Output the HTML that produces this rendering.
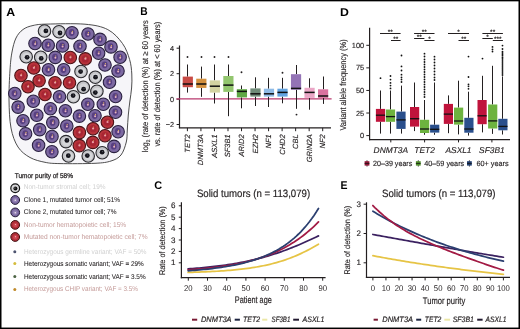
<!DOCTYPE html>
<html><head><meta charset="utf-8"><title>Figure</title>
<style>html,body{margin:0;padding:0;background:#fff;width:520px;height:329px;overflow:hidden}
svg text{font-family:"Liberation Sans", sans-serif;text-rendering:geometricPrecision}</style></head>
<body><svg width="520" height="329" viewBox="0 0 520 329" font-family='"Liberation Sans", sans-serif' style="display:block;will-change:transform"><text x="6.20" y="16.00" font-size="11.6" fill="#000" text-anchor="start" font-weight="bold" font-style="normal" textLength="8.90" lengthAdjust="spacingAndGlyphs">A</text>
<path d="M47.00,24.10 C55.67,23.88 74.87,23.28 85.00,24.20 C95.13,25.12 101.55,26.38 107.80,29.60 C114.05,32.82 118.87,38.52 122.50,43.50 C126.13,48.48 128.05,54.42 129.60,59.50 C131.15,64.58 131.47,69.25 131.80,74.00 C132.13,78.75 131.92,83.50 131.60,88.00 C131.28,92.50 130.45,96.50 129.90,101.00 C129.35,105.50 128.73,110.17 128.30,115.00 C127.87,119.83 127.63,125.50 127.30,130.00 C126.97,134.50 127.35,137.83 126.30,142.00 C125.25,146.17 123.55,151.83 121.00,155.00 C118.45,158.17 115.33,159.62 111.00,161.00 C106.67,162.38 103.50,162.87 95.00,163.30 C86.50,163.73 68.33,163.77 60.00,163.60 C51.67,163.43 50.00,163.32 45.00,162.30 C40.00,161.28 34.50,160.05 30.00,157.50 C25.50,154.95 21.17,151.92 18.00,147.00 C14.83,142.08 12.50,135.83 11.00,128.00 C9.50,120.17 9.17,109.67 9.00,100.00 C8.83,90.33 9.50,78.00 10.00,70.00 C10.50,62.00 11.00,57.33 12.00,52.00 C13.00,46.67 14.17,41.75 16.00,38.00 C17.83,34.25 20.17,31.58 23.00,29.50 C25.83,27.42 29.00,26.40 33.00,25.50 C37.00,24.60 38.33,24.32 47.00,24.10Z" fill="#f6f5f9" stroke="#3a3a3a" stroke-width="0.9"/>
<circle cx="44.50" cy="31.00" r="6.25" fill="#c4c4c8" stroke="#2a2a2e" stroke-width="1.1"/>
<circle cx="44.80" cy="31.30" r="4.05" fill="#d6d7da" stroke="none" stroke-width="0"/>
<circle cx="45.90" cy="30.90" r="2.40" fill="#16161d" stroke="none" stroke-width="0"/>
<circle cx="46.30" cy="30.30" r="0.60" fill="#5a5a64" stroke="none" stroke-width="0"/>
<circle cx="59.00" cy="31.70" r="6.25" fill="#c4c4c8" stroke="#2a2a2e" stroke-width="1.1"/>
<circle cx="59.30" cy="32.00" r="4.05" fill="#d6d7da" stroke="none" stroke-width="0"/>
<circle cx="60.00" cy="33.00" r="2.40" fill="#16161d" stroke="none" stroke-width="0"/>
<circle cx="60.40" cy="32.40" r="0.60" fill="#5a5a64" stroke="none" stroke-width="0"/>
<circle cx="72.00" cy="32.70" r="6.25" fill="#7d69a2" stroke="#2a2040" stroke-width="1.1"/>
<ellipse cx="71.70" cy="32.50" rx="2.9" ry="3.4" fill="#583f82"/>
<circle cx="72.10" cy="33.10" r="1.00" fill="#e8b2c2" stroke="none" stroke-width="0"/>
<circle cx="72.40" cy="31.30" r="0.60" fill="#e6c05a" stroke="none" stroke-width="0"/>
<circle cx="88.00" cy="34.00" r="6.25" fill="#7d69a2" stroke="#2a2040" stroke-width="1.1"/>
<ellipse cx="87.70" cy="33.80" rx="2.9" ry="3.4" fill="#583f82"/>
<circle cx="88.10" cy="34.40" r="1.00" fill="#e8b2c2" stroke="none" stroke-width="0"/>
<circle cx="88.40" cy="32.60" r="0.60" fill="#e6c05a" stroke="none" stroke-width="0"/>
<circle cx="100.00" cy="39.40" r="6.25" fill="#7d69a2" stroke="#2a2040" stroke-width="1.1"/>
<ellipse cx="99.70" cy="39.20" rx="2.9" ry="3.4" fill="#583f82"/>
<circle cx="100.10" cy="39.80" r="1.00" fill="#e8b2c2" stroke="none" stroke-width="0"/>
<circle cx="100.40" cy="38.00" r="0.60" fill="#e6c05a" stroke="none" stroke-width="0"/>
<circle cx="35.00" cy="43.50" r="6.25" fill="#7d69a2" stroke="#2a2040" stroke-width="1.1"/>
<ellipse cx="34.70" cy="43.30" rx="2.9" ry="3.4" fill="#583f82"/>
<circle cx="35.10" cy="43.90" r="1.00" fill="#e8b2c2" stroke="none" stroke-width="0"/>
<circle cx="35.40" cy="42.10" r="0.60" fill="#e6c05a" stroke="none" stroke-width="0"/>
<circle cx="48.20" cy="45.20" r="6.25" fill="#7d69a2" stroke="#2a2040" stroke-width="1.1"/>
<ellipse cx="47.90" cy="45.00" rx="2.9" ry="3.4" fill="#583f82"/>
<circle cx="48.30" cy="45.60" r="1.00" fill="#e8b2c2" stroke="none" stroke-width="0"/>
<circle cx="48.60" cy="43.80" r="0.60" fill="#e6c05a" stroke="none" stroke-width="0"/>
<circle cx="62.50" cy="46.00" r="6.25" fill="#7d69a2" stroke="#2a2040" stroke-width="1.1"/>
<ellipse cx="62.20" cy="45.80" rx="2.9" ry="3.4" fill="#583f82"/>
<circle cx="62.60" cy="46.40" r="1.00" fill="#e8b2c2" stroke="none" stroke-width="0"/>
<circle cx="62.90" cy="44.60" r="0.60" fill="#e6c05a" stroke="none" stroke-width="0"/>
<circle cx="80.00" cy="46.30" r="6.25" fill="#7d69a2" stroke="#2a2040" stroke-width="1.1"/>
<ellipse cx="79.70" cy="46.10" rx="2.9" ry="3.4" fill="#583f82"/>
<circle cx="80.10" cy="46.70" r="1.00" fill="#e8b2c2" stroke="none" stroke-width="0"/>
<circle cx="80.40" cy="44.90" r="0.60" fill="#e6c05a" stroke="none" stroke-width="0"/>
<circle cx="111.00" cy="46.90" r="6.25" fill="#7d69a2" stroke="#2a2040" stroke-width="1.1"/>
<ellipse cx="110.70" cy="46.70" rx="2.9" ry="3.4" fill="#583f82"/>
<circle cx="111.10" cy="47.30" r="1.00" fill="#e8b2c2" stroke="none" stroke-width="0"/>
<circle cx="111.40" cy="45.50" r="0.60" fill="#e6c05a" stroke="none" stroke-width="0"/>
<circle cx="26.20" cy="56.70" r="6.25" fill="#c4c4c8" stroke="#2a2a2e" stroke-width="1.1"/>
<circle cx="26.50" cy="57.00" r="4.05" fill="#d6d7da" stroke="none" stroke-width="0"/>
<circle cx="27.10" cy="57.30" r="2.40" fill="#16161d" stroke="none" stroke-width="0"/>
<circle cx="27.50" cy="56.70" r="0.60" fill="#5a5a64" stroke="none" stroke-width="0"/>
<circle cx="40.70" cy="57.20" r="6.25" fill="#c4c4c8" stroke="#2a2a2e" stroke-width="1.1"/>
<circle cx="41.00" cy="57.50" r="4.05" fill="#d6d7da" stroke="none" stroke-width="0"/>
<circle cx="41.20" cy="58.40" r="2.40" fill="#16161d" stroke="none" stroke-width="0"/>
<circle cx="41.60" cy="57.80" r="0.60" fill="#5a5a64" stroke="none" stroke-width="0"/>
<circle cx="55.30" cy="57.40" r="6.25" fill="#7d69a2" stroke="#2a2040" stroke-width="1.1"/>
<ellipse cx="55.00" cy="57.20" rx="2.9" ry="3.4" fill="#583f82"/>
<circle cx="55.40" cy="57.80" r="1.00" fill="#e8b2c2" stroke="none" stroke-width="0"/>
<circle cx="55.70" cy="56.00" r="0.60" fill="#e6c05a" stroke="none" stroke-width="0"/>
<circle cx="70.30" cy="57.50" r="6.25" fill="#b8333b" stroke="#4a1216" stroke-width="1.1"/>
<circle cx="70.30" cy="57.50" r="3.60" fill="#a82634" stroke="none" stroke-width="0"/>
<circle cx="70.40" cy="57.30" r="1.10" fill="#ec9aa6" stroke="none" stroke-width="0"/>
<circle cx="70.90" cy="55.90" r="0.50" fill="#e6c05a" stroke="none" stroke-width="0"/>
<circle cx="85.30" cy="58.90" r="6.25" fill="#b8333b" stroke="#4a1216" stroke-width="1.1"/>
<circle cx="85.30" cy="58.90" r="3.60" fill="#a82634" stroke="none" stroke-width="0"/>
<circle cx="85.40" cy="58.70" r="1.10" fill="#ec9aa6" stroke="none" stroke-width="0"/>
<circle cx="85.90" cy="57.30" r="0.50" fill="#e6c05a" stroke="none" stroke-width="0"/>
<circle cx="98.60" cy="53.20" r="6.25" fill="#7d69a2" stroke="#2a2040" stroke-width="1.1"/>
<ellipse cx="98.30" cy="53.00" rx="2.9" ry="3.4" fill="#583f82"/>
<circle cx="98.70" cy="53.60" r="1.00" fill="#e8b2c2" stroke="none" stroke-width="0"/>
<circle cx="99.00" cy="51.80" r="0.60" fill="#e6c05a" stroke="none" stroke-width="0"/>
<circle cx="120.10" cy="57.30" r="6.25" fill="#7d69a2" stroke="#2a2040" stroke-width="1.1"/>
<ellipse cx="119.80" cy="57.10" rx="2.9" ry="3.4" fill="#583f82"/>
<circle cx="120.20" cy="57.70" r="1.00" fill="#e8b2c2" stroke="none" stroke-width="0"/>
<circle cx="120.50" cy="55.90" r="0.60" fill="#e6c05a" stroke="none" stroke-width="0"/>
<circle cx="33.80" cy="68.00" r="6.25" fill="#b8333b" stroke="#4a1216" stroke-width="1.1"/>
<circle cx="33.80" cy="68.00" r="3.60" fill="#a82634" stroke="none" stroke-width="0"/>
<circle cx="33.90" cy="67.80" r="1.10" fill="#ec9aa6" stroke="none" stroke-width="0"/>
<circle cx="34.40" cy="66.40" r="0.50" fill="#e6c05a" stroke="none" stroke-width="0"/>
<circle cx="48.50" cy="69.70" r="6.25" fill="#7d69a2" stroke="#2a2040" stroke-width="1.1"/>
<ellipse cx="48.20" cy="69.50" rx="2.9" ry="3.4" fill="#583f82"/>
<circle cx="48.60" cy="70.10" r="1.00" fill="#e8b2c2" stroke="none" stroke-width="0"/>
<circle cx="48.90" cy="68.30" r="0.60" fill="#e6c05a" stroke="none" stroke-width="0"/>
<circle cx="63.70" cy="69.70" r="6.25" fill="#7d69a2" stroke="#2a2040" stroke-width="1.1"/>
<ellipse cx="63.40" cy="69.50" rx="2.9" ry="3.4" fill="#583f82"/>
<circle cx="63.80" cy="70.10" r="1.00" fill="#e8b2c2" stroke="none" stroke-width="0"/>
<circle cx="64.10" cy="68.30" r="0.60" fill="#e6c05a" stroke="none" stroke-width="0"/>
<circle cx="81.00" cy="71.50" r="6.25" fill="#c4c4c8" stroke="#2a2a2e" stroke-width="1.1"/>
<circle cx="81.30" cy="71.80" r="4.05" fill="#d6d7da" stroke="none" stroke-width="0"/>
<circle cx="80.60" cy="71.60" r="2.40" fill="#16161d" stroke="none" stroke-width="0"/>
<circle cx="81.00" cy="71.00" r="0.60" fill="#5a5a64" stroke="none" stroke-width="0"/>
<circle cx="105.00" cy="65.00" r="6.25" fill="#7d69a2" stroke="#2a2040" stroke-width="1.1"/>
<ellipse cx="104.70" cy="64.80" rx="2.9" ry="3.4" fill="#583f82"/>
<circle cx="105.10" cy="65.40" r="1.00" fill="#e8b2c2" stroke="none" stroke-width="0"/>
<circle cx="105.40" cy="63.60" r="0.60" fill="#e6c05a" stroke="none" stroke-width="0"/>
<circle cx="118.00" cy="71.00" r="6.25" fill="#7d69a2" stroke="#2a2040" stroke-width="1.1"/>
<ellipse cx="117.70" cy="70.80" rx="2.9" ry="3.4" fill="#583f82"/>
<circle cx="118.10" cy="71.40" r="1.00" fill="#e8b2c2" stroke="none" stroke-width="0"/>
<circle cx="118.40" cy="69.60" r="0.60" fill="#e6c05a" stroke="none" stroke-width="0"/>
<circle cx="21.00" cy="75.50" r="6.25" fill="#b8333b" stroke="#4a1216" stroke-width="1.1"/>
<circle cx="21.00" cy="75.50" r="3.60" fill="#a82634" stroke="none" stroke-width="0"/>
<circle cx="21.10" cy="75.30" r="1.10" fill="#ec9aa6" stroke="none" stroke-width="0"/>
<circle cx="21.60" cy="73.90" r="0.50" fill="#e6c05a" stroke="none" stroke-width="0"/>
<circle cx="39.10" cy="80.70" r="6.25" fill="#b8333b" stroke="#4a1216" stroke-width="1.1"/>
<circle cx="39.10" cy="80.70" r="3.60" fill="#a82634" stroke="none" stroke-width="0"/>
<circle cx="39.20" cy="80.50" r="1.10" fill="#ec9aa6" stroke="none" stroke-width="0"/>
<circle cx="39.70" cy="79.10" r="0.50" fill="#e6c05a" stroke="none" stroke-width="0"/>
<circle cx="55.00" cy="82.80" r="6.25" fill="#b8333b" stroke="#4a1216" stroke-width="1.1"/>
<circle cx="55.00" cy="82.80" r="3.60" fill="#a82634" stroke="none" stroke-width="0"/>
<circle cx="55.10" cy="82.60" r="1.10" fill="#ec9aa6" stroke="none" stroke-width="0"/>
<circle cx="55.60" cy="81.20" r="0.50" fill="#e6c05a" stroke="none" stroke-width="0"/>
<circle cx="69.50" cy="82.70" r="6.25" fill="#b8333b" stroke="#4a1216" stroke-width="1.1"/>
<circle cx="69.50" cy="82.70" r="3.60" fill="#a82634" stroke="none" stroke-width="0"/>
<circle cx="69.60" cy="82.50" r="1.10" fill="#ec9aa6" stroke="none" stroke-width="0"/>
<circle cx="70.10" cy="81.10" r="0.50" fill="#e6c05a" stroke="none" stroke-width="0"/>
<circle cx="95.30" cy="77.20" r="6.25" fill="#c4c4c8" stroke="#2a2a2e" stroke-width="1.1"/>
<circle cx="95.60" cy="77.50" r="4.05" fill="#d6d7da" stroke="none" stroke-width="0"/>
<circle cx="95.50" cy="77.20" r="2.40" fill="#16161d" stroke="none" stroke-width="0"/>
<circle cx="95.90" cy="76.60" r="0.60" fill="#5a5a64" stroke="none" stroke-width="0"/>
<circle cx="109.50" cy="82.20" r="6.25" fill="#7d69a2" stroke="#2a2040" stroke-width="1.1"/>
<ellipse cx="109.20" cy="82.00" rx="2.9" ry="3.4" fill="#583f82"/>
<circle cx="109.60" cy="82.60" r="1.00" fill="#e8b2c2" stroke="none" stroke-width="0"/>
<circle cx="109.90" cy="80.80" r="0.60" fill="#e6c05a" stroke="none" stroke-width="0"/>
<circle cx="28.00" cy="86.80" r="6.25" fill="#b8333b" stroke="#4a1216" stroke-width="1.1"/>
<circle cx="28.00" cy="86.80" r="3.60" fill="#a82634" stroke="none" stroke-width="0"/>
<circle cx="28.10" cy="86.60" r="1.10" fill="#ec9aa6" stroke="none" stroke-width="0"/>
<circle cx="28.60" cy="85.20" r="0.50" fill="#e6c05a" stroke="none" stroke-width="0"/>
<circle cx="83.30" cy="87.30" r="6.25" fill="#c4c4c8" stroke="#2a2a2e" stroke-width="1.1"/>
<circle cx="83.60" cy="87.60" r="4.05" fill="#d6d7da" stroke="none" stroke-width="0"/>
<circle cx="83.60" cy="89.20" r="2.40" fill="#16161d" stroke="none" stroke-width="0"/>
<circle cx="84.00" cy="88.60" r="0.60" fill="#5a5a64" stroke="none" stroke-width="0"/>
<circle cx="14.80" cy="93.50" r="6.25" fill="#7d69a2" stroke="#2a2040" stroke-width="1.1"/>
<ellipse cx="14.50" cy="93.30" rx="2.9" ry="3.4" fill="#583f82"/>
<circle cx="14.90" cy="93.90" r="1.00" fill="#e8b2c2" stroke="none" stroke-width="0"/>
<circle cx="15.20" cy="92.10" r="0.60" fill="#e6c05a" stroke="none" stroke-width="0"/>
<circle cx="45.00" cy="94.50" r="6.25" fill="#b8333b" stroke="#4a1216" stroke-width="1.1"/>
<circle cx="45.00" cy="94.50" r="3.60" fill="#a82634" stroke="none" stroke-width="0"/>
<circle cx="45.10" cy="94.30" r="1.10" fill="#ec9aa6" stroke="none" stroke-width="0"/>
<circle cx="45.60" cy="92.90" r="0.50" fill="#e6c05a" stroke="none" stroke-width="0"/>
<circle cx="59.50" cy="96.70" r="6.25" fill="#7d69a2" stroke="#2a2040" stroke-width="1.1"/>
<ellipse cx="59.20" cy="96.50" rx="2.9" ry="3.4" fill="#583f82"/>
<circle cx="59.60" cy="97.10" r="1.00" fill="#e8b2c2" stroke="none" stroke-width="0"/>
<circle cx="59.90" cy="95.30" r="0.60" fill="#e6c05a" stroke="none" stroke-width="0"/>
<circle cx="73.40" cy="96.80" r="6.25" fill="#c4c4c8" stroke="#2a2a2e" stroke-width="1.1"/>
<circle cx="73.70" cy="97.10" r="4.05" fill="#d6d7da" stroke="none" stroke-width="0"/>
<circle cx="73.10" cy="95.60" r="2.40" fill="#16161d" stroke="none" stroke-width="0"/>
<circle cx="73.50" cy="95.00" r="0.60" fill="#5a5a64" stroke="none" stroke-width="0"/>
<circle cx="96.90" cy="91.20" r="6.25" fill="#c4c4c8" stroke="#2a2a2e" stroke-width="1.1"/>
<circle cx="97.20" cy="91.50" r="4.05" fill="#d6d7da" stroke="none" stroke-width="0"/>
<circle cx="95.30" cy="92.60" r="2.40" fill="#16161d" stroke="none" stroke-width="0"/>
<circle cx="95.70" cy="92.00" r="0.60" fill="#5a5a64" stroke="none" stroke-width="0"/>
<circle cx="115.60" cy="96.50" r="6.25" fill="#7d69a2" stroke="#2a2040" stroke-width="1.1"/>
<ellipse cx="115.30" cy="96.30" rx="2.9" ry="3.4" fill="#583f82"/>
<circle cx="115.70" cy="96.90" r="1.00" fill="#e8b2c2" stroke="none" stroke-width="0"/>
<circle cx="116.00" cy="95.10" r="0.60" fill="#e6c05a" stroke="none" stroke-width="0"/>
<circle cx="33.30" cy="101.30" r="6.25" fill="#7d69a2" stroke="#2a2040" stroke-width="1.1"/>
<ellipse cx="33.00" cy="101.10" rx="2.9" ry="3.4" fill="#583f82"/>
<circle cx="33.40" cy="101.70" r="1.00" fill="#e8b2c2" stroke="none" stroke-width="0"/>
<circle cx="33.70" cy="99.90" r="0.60" fill="#e6c05a" stroke="none" stroke-width="0"/>
<circle cx="87.80" cy="104.30" r="6.25" fill="#7d69a2" stroke="#2a2040" stroke-width="1.1"/>
<ellipse cx="87.50" cy="104.10" rx="2.9" ry="3.4" fill="#583f82"/>
<circle cx="87.90" cy="104.70" r="1.00" fill="#e8b2c2" stroke="none" stroke-width="0"/>
<circle cx="88.20" cy="102.90" r="0.60" fill="#e6c05a" stroke="none" stroke-width="0"/>
<circle cx="103.30" cy="104.30" r="6.25" fill="#7d69a2" stroke="#2a2040" stroke-width="1.1"/>
<ellipse cx="103.00" cy="104.10" rx="2.9" ry="3.4" fill="#583f82"/>
<circle cx="103.40" cy="104.70" r="1.00" fill="#e8b2c2" stroke="none" stroke-width="0"/>
<circle cx="103.70" cy="102.90" r="0.60" fill="#e6c05a" stroke="none" stroke-width="0"/>
<circle cx="18.10" cy="107.10" r="6.25" fill="#7d69a2" stroke="#2a2040" stroke-width="1.1"/>
<ellipse cx="17.80" cy="106.90" rx="2.9" ry="3.4" fill="#583f82"/>
<circle cx="18.20" cy="107.50" r="1.00" fill="#e8b2c2" stroke="none" stroke-width="0"/>
<circle cx="18.50" cy="105.70" r="0.60" fill="#e6c05a" stroke="none" stroke-width="0"/>
<circle cx="50.40" cy="108.80" r="6.25" fill="#7d69a2" stroke="#2a2040" stroke-width="1.1"/>
<ellipse cx="50.10" cy="108.60" rx="2.9" ry="3.4" fill="#583f82"/>
<circle cx="50.50" cy="109.20" r="1.00" fill="#e8b2c2" stroke="none" stroke-width="0"/>
<circle cx="50.80" cy="107.40" r="0.60" fill="#e6c05a" stroke="none" stroke-width="0"/>
<circle cx="65.40" cy="110.80" r="6.25" fill="#7d69a2" stroke="#2a2040" stroke-width="1.1"/>
<ellipse cx="65.10" cy="110.60" rx="2.9" ry="3.4" fill="#583f82"/>
<circle cx="65.50" cy="111.20" r="1.00" fill="#e8b2c2" stroke="none" stroke-width="0"/>
<circle cx="65.80" cy="109.40" r="0.60" fill="#e6c05a" stroke="none" stroke-width="0"/>
<circle cx="115.50" cy="112.20" r="6.25" fill="#7d69a2" stroke="#2a2040" stroke-width="1.1"/>
<ellipse cx="115.20" cy="112.00" rx="2.9" ry="3.4" fill="#583f82"/>
<circle cx="115.60" cy="112.60" r="1.00" fill="#e8b2c2" stroke="none" stroke-width="0"/>
<circle cx="115.90" cy="110.80" r="0.60" fill="#e6c05a" stroke="none" stroke-width="0"/>
<circle cx="36.80" cy="115.20" r="6.25" fill="#7d69a2" stroke="#2a2040" stroke-width="1.1"/>
<ellipse cx="36.50" cy="115.00" rx="2.9" ry="3.4" fill="#583f82"/>
<circle cx="36.90" cy="115.60" r="1.00" fill="#e8b2c2" stroke="none" stroke-width="0"/>
<circle cx="37.20" cy="113.80" r="0.60" fill="#e6c05a" stroke="none" stroke-width="0"/>
<circle cx="79.40" cy="116.10" r="6.25" fill="#7d69a2" stroke="#2a2040" stroke-width="1.1"/>
<ellipse cx="79.10" cy="115.90" rx="2.9" ry="3.4" fill="#583f82"/>
<circle cx="79.50" cy="116.50" r="1.00" fill="#e8b2c2" stroke="none" stroke-width="0"/>
<circle cx="79.80" cy="114.70" r="0.60" fill="#e6c05a" stroke="none" stroke-width="0"/>
<circle cx="95.00" cy="115.80" r="6.25" fill="#7d69a2" stroke="#2a2040" stroke-width="1.1"/>
<ellipse cx="94.70" cy="115.60" rx="2.9" ry="3.4" fill="#583f82"/>
<circle cx="95.10" cy="116.20" r="1.00" fill="#e8b2c2" stroke="none" stroke-width="0"/>
<circle cx="95.40" cy="114.40" r="0.60" fill="#e6c05a" stroke="none" stroke-width="0"/>
<circle cx="23.00" cy="120.80" r="6.25" fill="#7d69a2" stroke="#2a2040" stroke-width="1.1"/>
<ellipse cx="22.70" cy="120.60" rx="2.9" ry="3.4" fill="#583f82"/>
<circle cx="23.10" cy="121.20" r="1.00" fill="#e8b2c2" stroke="none" stroke-width="0"/>
<circle cx="23.40" cy="119.40" r="0.60" fill="#e6c05a" stroke="none" stroke-width="0"/>
<circle cx="52.80" cy="122.60" r="6.25" fill="#7d69a2" stroke="#2a2040" stroke-width="1.1"/>
<ellipse cx="52.50" cy="122.40" rx="2.9" ry="3.4" fill="#583f82"/>
<circle cx="52.90" cy="123.00" r="1.00" fill="#e8b2c2" stroke="none" stroke-width="0"/>
<circle cx="53.20" cy="121.20" r="0.60" fill="#e6c05a" stroke="none" stroke-width="0"/>
<circle cx="107.40" cy="122.20" r="6.25" fill="#b8333b" stroke="#4a1216" stroke-width="1.1"/>
<circle cx="107.40" cy="122.20" r="3.60" fill="#a82634" stroke="none" stroke-width="0"/>
<circle cx="107.50" cy="122.00" r="1.10" fill="#ec9aa6" stroke="none" stroke-width="0"/>
<circle cx="108.00" cy="120.60" r="0.50" fill="#e6c05a" stroke="none" stroke-width="0"/>
<circle cx="66.80" cy="126.00" r="6.25" fill="#7d69a2" stroke="#2a2040" stroke-width="1.1"/>
<ellipse cx="66.50" cy="125.80" rx="2.9" ry="3.4" fill="#583f82"/>
<circle cx="66.90" cy="126.40" r="1.00" fill="#e8b2c2" stroke="none" stroke-width="0"/>
<circle cx="67.20" cy="124.60" r="0.60" fill="#e6c05a" stroke="none" stroke-width="0"/>
<circle cx="39.70" cy="129.60" r="6.25" fill="#7d69a2" stroke="#2a2040" stroke-width="1.1"/>
<ellipse cx="39.40" cy="129.40" rx="2.9" ry="3.4" fill="#583f82"/>
<circle cx="39.80" cy="130.00" r="1.00" fill="#e8b2c2" stroke="none" stroke-width="0"/>
<circle cx="40.10" cy="128.20" r="0.60" fill="#e6c05a" stroke="none" stroke-width="0"/>
<circle cx="93.00" cy="128.70" r="6.25" fill="#b8333b" stroke="#4a1216" stroke-width="1.1"/>
<circle cx="93.00" cy="128.70" r="3.60" fill="#a82634" stroke="none" stroke-width="0"/>
<circle cx="93.10" cy="128.50" r="1.10" fill="#ec9aa6" stroke="none" stroke-width="0"/>
<circle cx="93.60" cy="127.10" r="0.50" fill="#e6c05a" stroke="none" stroke-width="0"/>
<circle cx="25.60" cy="133.80" r="6.25" fill="#7d69a2" stroke="#2a2040" stroke-width="1.1"/>
<ellipse cx="25.30" cy="133.60" rx="2.9" ry="3.4" fill="#583f82"/>
<circle cx="25.70" cy="134.20" r="1.00" fill="#e8b2c2" stroke="none" stroke-width="0"/>
<circle cx="26.00" cy="132.40" r="0.60" fill="#e6c05a" stroke="none" stroke-width="0"/>
<circle cx="52.00" cy="136.50" r="6.25" fill="#7d69a2" stroke="#2a2040" stroke-width="1.1"/>
<ellipse cx="51.70" cy="136.30" rx="2.9" ry="3.4" fill="#583f82"/>
<circle cx="52.10" cy="136.90" r="1.00" fill="#e8b2c2" stroke="none" stroke-width="0"/>
<circle cx="52.40" cy="135.10" r="0.60" fill="#e6c05a" stroke="none" stroke-width="0"/>
<circle cx="79.40" cy="132.60" r="6.25" fill="#b8333b" stroke="#4a1216" stroke-width="1.1"/>
<circle cx="79.40" cy="132.60" r="3.60" fill="#a82634" stroke="none" stroke-width="0"/>
<circle cx="79.50" cy="132.40" r="1.10" fill="#ec9aa6" stroke="none" stroke-width="0"/>
<circle cx="80.00" cy="131.00" r="0.50" fill="#e6c05a" stroke="none" stroke-width="0"/>
<circle cx="105.00" cy="135.70" r="6.25" fill="#b8333b" stroke="#4a1216" stroke-width="1.1"/>
<circle cx="105.00" cy="135.70" r="3.60" fill="#a82634" stroke="none" stroke-width="0"/>
<circle cx="105.10" cy="135.50" r="1.10" fill="#ec9aa6" stroke="none" stroke-width="0"/>
<circle cx="105.60" cy="134.10" r="0.50" fill="#e6c05a" stroke="none" stroke-width="0"/>
<circle cx="118.10" cy="131.70" r="6.25" fill="#7d69a2" stroke="#2a2040" stroke-width="1.1"/>
<ellipse cx="117.80" cy="131.50" rx="2.9" ry="3.4" fill="#583f82"/>
<circle cx="118.20" cy="132.10" r="1.00" fill="#e8b2c2" stroke="none" stroke-width="0"/>
<circle cx="118.50" cy="130.30" r="0.60" fill="#e6c05a" stroke="none" stroke-width="0"/>
<circle cx="66.00" cy="141.60" r="6.25" fill="#c4c4c8" stroke="#2a2a2e" stroke-width="1.1"/>
<circle cx="66.30" cy="141.90" r="4.05" fill="#d6d7da" stroke="none" stroke-width="0"/>
<circle cx="66.90" cy="140.40" r="2.40" fill="#16161d" stroke="none" stroke-width="0"/>
<circle cx="67.30" cy="139.80" r="0.60" fill="#5a5a64" stroke="none" stroke-width="0"/>
<circle cx="79.30" cy="145.60" r="6.25" fill="#b8333b" stroke="#4a1216" stroke-width="1.1"/>
<circle cx="79.30" cy="145.60" r="3.60" fill="#a82634" stroke="none" stroke-width="0"/>
<circle cx="79.40" cy="145.40" r="1.10" fill="#ec9aa6" stroke="none" stroke-width="0"/>
<circle cx="79.90" cy="144.00" r="0.50" fill="#e6c05a" stroke="none" stroke-width="0"/>
<circle cx="92.80" cy="142.40" r="6.25" fill="#b8333b" stroke="#4a1216" stroke-width="1.1"/>
<circle cx="92.80" cy="142.40" r="3.60" fill="#a82634" stroke="none" stroke-width="0"/>
<circle cx="92.90" cy="142.20" r="1.10" fill="#ec9aa6" stroke="none" stroke-width="0"/>
<circle cx="93.40" cy="140.80" r="0.50" fill="#e6c05a" stroke="none" stroke-width="0"/>
<circle cx="38.60" cy="145.30" r="6.25" fill="#7d69a2" stroke="#2a2040" stroke-width="1.1"/>
<ellipse cx="38.30" cy="145.10" rx="2.9" ry="3.4" fill="#583f82"/>
<circle cx="38.70" cy="145.70" r="1.00" fill="#e8b2c2" stroke="none" stroke-width="0"/>
<circle cx="39.00" cy="143.90" r="0.60" fill="#e6c05a" stroke="none" stroke-width="0"/>
<circle cx="114.00" cy="146.40" r="6.25" fill="#7d69a2" stroke="#2a2040" stroke-width="1.1"/>
<ellipse cx="113.70" cy="146.20" rx="2.9" ry="3.4" fill="#583f82"/>
<circle cx="114.10" cy="146.80" r="1.00" fill="#e8b2c2" stroke="none" stroke-width="0"/>
<circle cx="114.40" cy="145.00" r="0.60" fill="#e6c05a" stroke="none" stroke-width="0"/>
<circle cx="51.90" cy="151.80" r="6.25" fill="#7d69a2" stroke="#2a2040" stroke-width="1.1"/>
<ellipse cx="51.60" cy="151.60" rx="2.9" ry="3.4" fill="#583f82"/>
<circle cx="52.00" cy="152.20" r="1.00" fill="#e8b2c2" stroke="none" stroke-width="0"/>
<circle cx="52.30" cy="150.40" r="0.60" fill="#e6c05a" stroke="none" stroke-width="0"/>
<circle cx="68.50" cy="156.00" r="6.25" fill="#c4c4c8" stroke="#2a2a2e" stroke-width="1.1"/>
<circle cx="68.80" cy="156.30" r="4.05" fill="#d6d7da" stroke="none" stroke-width="0"/>
<circle cx="68.30" cy="155.70" r="2.40" fill="#16161d" stroke="none" stroke-width="0"/>
<circle cx="68.70" cy="155.10" r="0.60" fill="#5a5a64" stroke="none" stroke-width="0"/>
<circle cx="88.20" cy="156.00" r="6.25" fill="#c4c4c8" stroke="#2a2a2e" stroke-width="1.1"/>
<circle cx="88.50" cy="156.30" r="4.05" fill="#d6d7da" stroke="none" stroke-width="0"/>
<circle cx="87.30" cy="155.60" r="2.40" fill="#16161d" stroke="none" stroke-width="0"/>
<circle cx="87.70" cy="155.00" r="0.60" fill="#5a5a64" stroke="none" stroke-width="0"/>
<circle cx="102.20" cy="152.80" r="6.25" fill="#c4c4c8" stroke="#2a2a2e" stroke-width="1.1"/>
<circle cx="102.50" cy="153.10" r="4.05" fill="#d6d7da" stroke="none" stroke-width="0"/>
<circle cx="102.10" cy="152.20" r="2.40" fill="#16161d" stroke="none" stroke-width="0"/>
<circle cx="102.50" cy="151.60" r="0.60" fill="#5a5a64" stroke="none" stroke-width="0"/>
<text x="14.70" y="177.70" font-size="7.0" fill="#231f20" text-anchor="start" font-weight="normal" font-style="normal" textLength="58.30" lengthAdjust="spacingAndGlyphs" stroke="#231f20" stroke-width="0.25">Tumor purity of 58%</text>
<circle cx="15.20" cy="188.20" r="4.40" fill="#d6d6d8" stroke="#151515" stroke-width="1.2"/>
<circle cx="15.40" cy="188.40" r="2.00" fill="#111" stroke="none" stroke-width="0"/>
<circle cx="14.90" cy="188.00" r="0.60" fill="#bbbbbb" stroke="none" stroke-width="0"/>
<text x="23.80" y="189.10" font-size="6.9" fill="#d0d0d0" text-anchor="start" font-weight="normal" font-style="normal" textLength="81.70" lengthAdjust="spacingAndGlyphs" >Non-tumor stromal cell; 19%</text>
<circle cx="15.20" cy="200.00" r="4.40" fill="#7a67a0" stroke="#221a36" stroke-width="1.0"/>
<circle cx="15.20" cy="200.20" r="2.40" fill="#9483b4" stroke="none" stroke-width="0"/>
<circle cx="15.30" cy="200.30" r="0.80" fill="#ece0ec" stroke="none" stroke-width="0"/>
<text x="23.80" y="201.60" font-size="6.9" fill="#231f20" text-anchor="start" font-weight="normal" font-style="normal" textLength="96.30" lengthAdjust="spacingAndGlyphs" stroke="#231f20" stroke-width="0.06">Clone 1, mutated tumor cell; 51%</text>
<circle cx="15.20" cy="212.40" r="4.40" fill="#7a67a0" stroke="#221a36" stroke-width="1.0"/>
<circle cx="15.20" cy="212.60" r="2.40" fill="#9483b4" stroke="none" stroke-width="0"/>
<circle cx="15.30" cy="212.70" r="0.80" fill="#ece0ec" stroke="none" stroke-width="0"/>
<text x="23.80" y="213.70" font-size="6.9" fill="#231f20" text-anchor="start" font-weight="normal" font-style="normal" textLength="92.70" lengthAdjust="spacingAndGlyphs" stroke="#231f20" stroke-width="0.06">Clone 2, mutated tumor cell; 7%</text>
<circle cx="15.20" cy="224.90" r="4.40" fill="#b02e38" stroke="#401012" stroke-width="1.0"/>
<circle cx="15.40" cy="225.10" r="2.20" fill="#cc4652" stroke="none" stroke-width="0"/>
<circle cx="15.50" cy="224.60" r="0.60" fill="#f0b0b0" stroke="none" stroke-width="0"/>
<text x="23.80" y="226.50" font-size="6.9" fill="#c49a98" text-anchor="start" font-weight="normal" font-style="normal" textLength="102.40" lengthAdjust="spacingAndGlyphs" >Non-tumor hematopoietic cell; 15%</text>
<circle cx="15.20" cy="237.00" r="4.40" fill="#b02e38" stroke="#401012" stroke-width="1.0"/>
<circle cx="15.40" cy="237.20" r="2.20" fill="#cc4652" stroke="none" stroke-width="0"/>
<circle cx="15.50" cy="236.70" r="0.60" fill="#f0b0b0" stroke="none" stroke-width="0"/>
<text x="23.80" y="238.60" font-size="6.9" fill="#c49a98" text-anchor="start" font-weight="normal" font-style="normal" textLength="123.80" lengthAdjust="spacingAndGlyphs" >Mutated non-tumor hematopoietic cell; 7%</text>
<circle cx="14.80" cy="251.70" r="1.50" fill="#4d5470" stroke="none" stroke-width="0"/>
<text x="24.00" y="253.70" font-size="6.9" fill="#d0d0d0" text-anchor="start" font-weight="normal" font-style="normal" textLength="122.50" lengthAdjust="spacingAndGlyphs" >Heterozygous germline variant; VAF = 50%</text>
<circle cx="14.80" cy="263.50" r="1.50" fill="#d4bc3c" stroke="none" stroke-width="0"/>
<text x="24.00" y="265.90" font-size="6.9" fill="#231f20" text-anchor="start" font-weight="normal" font-style="normal" textLength="119.80" lengthAdjust="spacingAndGlyphs" stroke="#231f20" stroke-width="0.08">Heterozygous somatic variant; VAF = 29%</text>
<circle cx="14.80" cy="276.60" r="1.50" fill="#4d6445" stroke="none" stroke-width="0"/>
<text x="24.00" y="278.50" font-size="6.9" fill="#231f20" text-anchor="start" font-weight="normal" font-style="normal" textLength="121.60" lengthAdjust="spacingAndGlyphs" stroke="#231f20" stroke-width="0.08">Heterozygous somatic variant; VAF = 3.5%</text>
<circle cx="14.80" cy="289.60" r="1.50" fill="#c08a2a" stroke="none" stroke-width="0"/>
<text x="24.00" y="291.20" font-size="6.9" fill="#c49a98" text-anchor="start" font-weight="normal" font-style="normal" textLength="114.00" lengthAdjust="spacingAndGlyphs" >Heterozygous CHIP variant; VAF = 3.5%</text>
<text x="140.20" y="14.90" font-size="11.2" fill="#000" text-anchor="start" font-weight="bold" font-style="normal" textLength="7.40" lengthAdjust="spacingAndGlyphs">B</text>
<text transform="translate(148.3,152.3) rotate(-90)" font-size="8.4" fill="#231f20" stroke="#231f20" stroke-width="0.14" textLength="132" lengthAdjust="spacingAndGlyphs">log<tspan font-size="5.2" dy="1.5">2</tspan><tspan dy="-1.5"> (rate of detection (%) at ≥ 60 years</tspan></text>
<text transform="translate(159.6,146.6) rotate(-90)" font-size="8.4" fill="#231f20" stroke="#231f20" stroke-width="0.14" textLength="124.7" lengthAdjust="spacingAndGlyphs">vs. rate of detection (%) at &lt; 60 years)</text>
<line x1="179.50" y1="45.50" x2="179.50" y2="128.20" stroke="#231f20" stroke-width="1.2"/>
<line x1="178.90" y1="127.90" x2="331.00" y2="127.90" stroke="#231f20" stroke-width="1.2"/>
<line x1="176.60" y1="48.20" x2="179.50" y2="48.20" stroke="#231f20" stroke-width="1.0"/>
<text x="174.00" y="50.80" font-size="7.3" fill="#231f20" text-anchor="end" font-weight="normal" font-style="normal" stroke="#231f20" stroke-width="0.14">4</text>
<line x1="176.60" y1="73.70" x2="179.50" y2="73.70" stroke="#231f20" stroke-width="1.0"/>
<text x="174.00" y="76.30" font-size="7.3" fill="#231f20" text-anchor="end" font-weight="normal" font-style="normal" stroke="#231f20" stroke-width="0.14">2</text>
<line x1="176.60" y1="99.20" x2="179.50" y2="99.20" stroke="#231f20" stroke-width="1.0"/>
<text x="174.00" y="101.80" font-size="7.3" fill="#231f20" text-anchor="end" font-weight="normal" font-style="normal" stroke="#231f20" stroke-width="0.14">0</text>
<line x1="176.60" y1="124.50" x2="179.50" y2="124.50" stroke="#231f20" stroke-width="1.0"/>
<text x="174.00" y="127.10" font-size="7.3" fill="#231f20" text-anchor="end" font-weight="normal" font-style="normal" stroke="#231f20" stroke-width="0.14">−2</text>
<line x1="176.40" y1="98.90" x2="331.60" y2="98.90" stroke="#b8386e" stroke-width="1.3"/>
<line x1="187.50" y1="64.50" x2="187.50" y2="76.60" stroke="#231f20" stroke-width="1.0"/>
<line x1="187.50" y1="87.20" x2="187.50" y2="92.60" stroke="#231f20" stroke-width="1.0"/>
<rect x="182.70" y="76.60" width="10.20" height="10.60" fill="#c94c46" stroke="none" stroke-width="0"/>
<line x1="182.70" y1="84.00" x2="192.90" y2="84.00" stroke="#111" stroke-width="1.5"/>
<circle cx="187.50" cy="57.00" r="0.95" fill="#231f20" stroke="none" stroke-width="0"/>
<line x1="187.40" y1="127.90" x2="187.40" y2="131.20" stroke="#231f20" stroke-width="1.0"/>
<text transform="translate(189.90,134.3) rotate(-90)" font-size="7.5" font-style="italic" fill="#231f20" stroke="#231f20" stroke-width="0.14" text-anchor="end">TET2</text>
<line x1="201.50" y1="66.60" x2="201.50" y2="78.70" stroke="#231f20" stroke-width="1.0"/>
<line x1="201.50" y1="87.90" x2="201.50" y2="96.80" stroke="#231f20" stroke-width="1.0"/>
<rect x="196.23" y="78.70" width="10.20" height="9.20" fill="#d4913f" stroke="none" stroke-width="0"/>
<line x1="196.23" y1="84.00" x2="206.43" y2="84.00" stroke="#111" stroke-width="1.5"/>
<circle cx="201.50" cy="57.00" r="0.95" fill="#231f20" stroke="none" stroke-width="0"/>
<line x1="200.93" y1="127.90" x2="200.93" y2="131.20" stroke="#231f20" stroke-width="1.0"/>
<text transform="translate(203.43,134.3) rotate(-90)" font-size="7.5" font-style="italic" fill="#231f20" stroke="#231f20" stroke-width="0.14" text-anchor="end">DNMT3A</text>
<line x1="214.50" y1="64.50" x2="214.50" y2="80.40" stroke="#231f20" stroke-width="1.0"/>
<line x1="214.50" y1="92.60" x2="214.50" y2="103.50" stroke="#231f20" stroke-width="1.0"/>
<rect x="209.76" y="80.40" width="10.20" height="12.20" fill="#d3d3a1" stroke="none" stroke-width="0"/>
<line x1="209.76" y1="86.20" x2="219.96" y2="86.20" stroke="#111" stroke-width="1.5"/>
<circle cx="214.50" cy="57.00" r="0.95" fill="#231f20" stroke="none" stroke-width="0"/>
<line x1="214.46" y1="127.90" x2="214.46" y2="131.20" stroke="#231f20" stroke-width="1.0"/>
<text transform="translate(216.96,134.3) rotate(-90)" font-size="7.5" font-style="italic" fill="#231f20" stroke="#231f20" stroke-width="0.14" text-anchor="end">ASXL1</text>
<line x1="228.50" y1="64.50" x2="228.50" y2="76.00" stroke="#231f20" stroke-width="1.0"/>
<line x1="228.50" y1="91.90" x2="228.50" y2="116.20" stroke="#231f20" stroke-width="1.0"/>
<rect x="223.29" y="76.00" width="10.20" height="15.90" fill="#93c66f" stroke="none" stroke-width="0"/>
<line x1="223.29" y1="85.10" x2="233.49" y2="85.10" stroke="#111" stroke-width="1.5"/>
<circle cx="228.50" cy="57.00" r="0.95" fill="#231f20" stroke="none" stroke-width="0"/>
<line x1="227.99" y1="127.90" x2="227.99" y2="131.20" stroke="#231f20" stroke-width="1.0"/>
<text transform="translate(230.49,134.3) rotate(-90)" font-size="7.5" font-style="italic" fill="#231f20" stroke="#231f20" stroke-width="0.14" text-anchor="end">SF3B1</text>
<line x1="241.50" y1="85.50" x2="241.50" y2="89.20" stroke="#231f20" stroke-width="1.0"/>
<line x1="241.50" y1="97.40" x2="241.50" y2="108.30" stroke="#231f20" stroke-width="1.0"/>
<rect x="236.82" y="89.20" width="10.20" height="8.20" fill="#5fa845" stroke="none" stroke-width="0"/>
<line x1="236.82" y1="91.40" x2="247.02" y2="91.40" stroke="#111" stroke-width="1.5"/>
<circle cx="241.50" cy="72.20" r="0.95" fill="#231f20" stroke="none" stroke-width="0"/>
<line x1="241.52" y1="127.90" x2="241.52" y2="131.20" stroke="#231f20" stroke-width="1.0"/>
<text transform="translate(244.02,134.3) rotate(-90)" font-size="7.5" font-style="italic" fill="#231f20" stroke="#231f20" stroke-width="0.14" text-anchor="end">ARID2</text>
<line x1="255.50" y1="77.30" x2="255.50" y2="88.40" stroke="#231f20" stroke-width="1.0"/>
<line x1="255.50" y1="96.60" x2="255.50" y2="106.00" stroke="#231f20" stroke-width="1.0"/>
<rect x="250.35" y="88.40" width="10.20" height="8.20" fill="#6f8b78" stroke="none" stroke-width="0"/>
<line x1="250.35" y1="93.80" x2="260.55" y2="93.80" stroke="#111" stroke-width="1.5"/>
<line x1="255.05" y1="127.90" x2="255.05" y2="131.20" stroke="#231f20" stroke-width="1.0"/>
<text transform="translate(257.55,134.3) rotate(-90)" font-size="7.5" font-style="italic" fill="#231f20" stroke="#231f20" stroke-width="0.14" text-anchor="end">EZH2</text>
<line x1="268.50" y1="77.80" x2="268.50" y2="88.70" stroke="#231f20" stroke-width="1.0"/>
<line x1="268.50" y1="96.60" x2="268.50" y2="107.00" stroke="#231f20" stroke-width="1.0"/>
<rect x="263.88" y="88.70" width="10.20" height="7.90" fill="#8ebbe6" stroke="none" stroke-width="0"/>
<line x1="263.88" y1="93.80" x2="274.08" y2="93.80" stroke="#111" stroke-width="1.5"/>
<line x1="268.58" y1="127.90" x2="268.58" y2="131.20" stroke="#231f20" stroke-width="1.0"/>
<text transform="translate(271.08,134.3) rotate(-90)" font-size="7.5" font-style="italic" fill="#231f20" stroke="#231f20" stroke-width="0.14" text-anchor="end">NF1</text>
<line x1="282.50" y1="77.80" x2="282.50" y2="88.70" stroke="#231f20" stroke-width="1.0"/>
<line x1="282.50" y1="96.60" x2="282.50" y2="103.30" stroke="#231f20" stroke-width="1.0"/>
<rect x="277.41" y="88.70" width="10.20" height="7.90" fill="#64a4e0" stroke="none" stroke-width="0"/>
<line x1="277.41" y1="92.40" x2="287.61" y2="92.40" stroke="#111" stroke-width="1.5"/>
<circle cx="282.50" cy="72.70" r="0.95" fill="#231f20" stroke="none" stroke-width="0"/>
<line x1="282.11" y1="127.90" x2="282.11" y2="131.20" stroke="#231f20" stroke-width="1.0"/>
<text transform="translate(284.61,134.3) rotate(-90)" font-size="7.5" font-style="italic" fill="#231f20" stroke="#231f20" stroke-width="0.14" text-anchor="end">CHD2</text>
<line x1="296.50" y1="65.00" x2="296.50" y2="74.20" stroke="#231f20" stroke-width="1.0"/>
<line x1="296.50" y1="89.70" x2="296.50" y2="108.80" stroke="#231f20" stroke-width="1.0"/>
<rect x="290.94" y="74.20" width="10.20" height="15.50" fill="#9474b6" stroke="none" stroke-width="0"/>
<line x1="290.94" y1="88.40" x2="301.14" y2="88.40" stroke="#111" stroke-width="1.5"/>
<circle cx="296.50" cy="114.60" r="0.95" fill="#231f20" stroke="none" stroke-width="0"/>
<line x1="295.64" y1="127.90" x2="295.64" y2="131.20" stroke="#231f20" stroke-width="1.0"/>
<text transform="translate(298.14,134.3) rotate(-90)" font-size="7.5" font-style="italic" fill="#231f20" stroke="#231f20" stroke-width="0.14" text-anchor="end">CBL</text>
<line x1="309.50" y1="78.30" x2="309.50" y2="87.80" stroke="#231f20" stroke-width="1.0"/>
<line x1="309.50" y1="97.90" x2="309.50" y2="109.70" stroke="#231f20" stroke-width="1.0"/>
<rect x="304.47" y="87.80" width="10.20" height="10.10" fill="#eaa6c6" stroke="none" stroke-width="0"/>
<line x1="304.47" y1="92.40" x2="314.67" y2="92.40" stroke="#111" stroke-width="1.5"/>
<line x1="309.17" y1="127.90" x2="309.17" y2="131.20" stroke="#231f20" stroke-width="1.0"/>
<text transform="translate(311.67,134.3) rotate(-90)" font-size="7.5" font-style="italic" fill="#231f20" stroke="#231f20" stroke-width="0.14" text-anchor="end">GRIN2A</text>
<line x1="323.50" y1="76.50" x2="323.50" y2="89.30" stroke="#231f20" stroke-width="1.0"/>
<line x1="323.50" y1="97.90" x2="323.50" y2="103.90" stroke="#231f20" stroke-width="1.0"/>
<rect x="318.00" y="89.30" width="10.20" height="8.60" fill="#d9739f" stroke="none" stroke-width="0"/>
<line x1="318.00" y1="96.00" x2="328.20" y2="96.00" stroke="#111" stroke-width="1.5"/>
<line x1="322.70" y1="127.90" x2="322.70" y2="131.20" stroke="#231f20" stroke-width="1.0"/>
<text transform="translate(325.20,134.3) rotate(-90)" font-size="7.5" font-style="italic" fill="#231f20" stroke="#231f20" stroke-width="0.14" text-anchor="end">NF2</text>
<text x="340.10" y="15.50" font-size="11.2" fill="#000" text-anchor="start" font-weight="bold" font-style="normal" textLength="8.90" lengthAdjust="spacingAndGlyphs">D</text>
<text transform="translate(345.6,130.6) rotate(-90)" font-size="8.7" fill="#231f20" stroke="#231f20" stroke-width="0.14" textLength="91.3" lengthAdjust="spacingAndGlyphs">Variant allele frequency (%)</text>
<line x1="369.60" y1="27.70" x2="369.60" y2="140.20" stroke="#231f20" stroke-width="1.2"/>
<line x1="369.00" y1="139.60" x2="510.00" y2="139.60" stroke="#231f20" stroke-width="1.2"/>
<line x1="366.30" y1="135.60" x2="369.60" y2="135.60" stroke="#231f20" stroke-width="1.0"/>
<text x="364.20" y="138.20" font-size="7.4" fill="#231f20" text-anchor="end" font-weight="normal" font-style="normal" stroke="#231f20" stroke-width="0.14">0</text>
<line x1="366.30" y1="113.02" x2="369.60" y2="113.02" stroke="#231f20" stroke-width="1.0"/>
<text x="364.20" y="115.62" font-size="7.4" fill="#231f20" text-anchor="end" font-weight="normal" font-style="normal" stroke="#231f20" stroke-width="0.14">25</text>
<line x1="366.30" y1="90.45" x2="369.60" y2="90.45" stroke="#231f20" stroke-width="1.0"/>
<text x="364.20" y="93.05" font-size="7.4" fill="#231f20" text-anchor="end" font-weight="normal" font-style="normal" stroke="#231f20" stroke-width="0.14">50</text>
<line x1="366.30" y1="67.87" x2="369.60" y2="67.87" stroke="#231f20" stroke-width="1.0"/>
<text x="364.20" y="70.47" font-size="7.4" fill="#231f20" text-anchor="end" font-weight="normal" font-style="normal" stroke="#231f20" stroke-width="0.14">75</text>
<line x1="366.30" y1="45.30" x2="369.60" y2="45.30" stroke="#231f20" stroke-width="1.0"/>
<text x="364.20" y="47.90" font-size="7.4" fill="#231f20" text-anchor="end" font-weight="normal" font-style="normal" stroke="#231f20" stroke-width="0.14">100</text>
<line x1="380.50" y1="90.50" x2="380.50" y2="108.90" stroke="#231f20" stroke-width="1.0"/>
<line x1="380.50" y1="121.80" x2="380.50" y2="133.60" stroke="#231f20" stroke-width="1.0"/>
<rect x="375.90" y="108.90" width="9.20" height="12.90" fill="#c0143c" stroke="none" stroke-width="0"/>
<line x1="375.90" y1="115.20" x2="385.10" y2="115.20" stroke="#111" stroke-width="1.3"/>
<circle cx="380.50" cy="78.20" r="0.90" fill="#111" stroke="none" stroke-width="0"/>
<line x1="390.50" y1="90.50" x2="390.50" y2="109.50" stroke="#231f20" stroke-width="1.0"/>
<line x1="390.50" y1="121.80" x2="390.50" y2="133.60" stroke="#231f20" stroke-width="1.0"/>
<rect x="385.90" y="109.50" width="9.20" height="12.30" fill="#6db33f" stroke="none" stroke-width="0"/>
<line x1="385.90" y1="116.60" x2="395.10" y2="116.60" stroke="#111" stroke-width="1.3"/>
<circle cx="390.50" cy="76.00" r="0.90" fill="#111" stroke="none" stroke-width="0"/>
<circle cx="390.50" cy="79.60" r="0.90" fill="#111" stroke="none" stroke-width="0"/>
<circle cx="390.50" cy="82.90" r="0.90" fill="#111" stroke="none" stroke-width="0"/>
<circle cx="390.50" cy="85.60" r="0.90" fill="#111" stroke="none" stroke-width="0"/>
<circle cx="390.50" cy="88.40" r="0.90" fill="#111" stroke="none" stroke-width="0"/>
<line x1="401.50" y1="85.60" x2="401.50" y2="111.60" stroke="#231f20" stroke-width="1.0"/>
<line x1="401.50" y1="128.90" x2="401.50" y2="133.60" stroke="#231f20" stroke-width="1.0"/>
<rect x="396.40" y="111.60" width="9.20" height="17.30" fill="#2a4f8c" stroke="none" stroke-width="0"/>
<line x1="396.40" y1="119.90" x2="405.60" y2="119.90" stroke="#111" stroke-width="1.3"/>
<circle cx="401.50" cy="55.50" r="0.90" fill="#111" stroke="none" stroke-width="0"/>
<circle cx="401.50" cy="66.40" r="0.90" fill="#111" stroke="none" stroke-width="0"/>
<circle cx="401.50" cy="70.50" r="0.90" fill="#111" stroke="none" stroke-width="0"/>
<circle cx="401.50" cy="74.70" r="0.90" fill="#111" stroke="none" stroke-width="0"/>
<circle cx="401.50" cy="77.50" r="0.90" fill="#111" stroke="none" stroke-width="0"/>
<circle cx="401.50" cy="79.60" r="0.90" fill="#111" stroke="none" stroke-width="0"/>
<circle cx="401.50" cy="82.00" r="0.90" fill="#111" stroke="none" stroke-width="0"/>
<line x1="414.50" y1="82.50" x2="414.50" y2="107.00" stroke="#231f20" stroke-width="1.0"/>
<line x1="414.50" y1="126.60" x2="414.50" y2="131.10" stroke="#231f20" stroke-width="1.0"/>
<rect x="410.00" y="107.00" width="9.20" height="19.60" fill="#c0143c" stroke="none" stroke-width="0"/>
<line x1="410.00" y1="118.70" x2="419.20" y2="118.70" stroke="#111" stroke-width="1.3"/>
<line x1="424.50" y1="100.00" x2="424.50" y2="119.80" stroke="#231f20" stroke-width="1.0"/>
<line x1="424.50" y1="133.00" x2="424.50" y2="134.80" stroke="#231f20" stroke-width="1.0"/>
<rect x="420.00" y="119.80" width="9.20" height="13.20" fill="#6db33f" stroke="none" stroke-width="0"/>
<line x1="420.00" y1="129.00" x2="429.20" y2="129.00" stroke="#111" stroke-width="1.3"/>
<circle cx="424.50" cy="53.70" r="0.90" fill="#111" stroke="none" stroke-width="0"/>
<circle cx="424.50" cy="56.50" r="0.90" fill="#111" stroke="none" stroke-width="0"/>
<circle cx="424.50" cy="59.50" r="0.90" fill="#111" stroke="none" stroke-width="0"/>
<circle cx="424.50" cy="62.00" r="0.90" fill="#111" stroke="none" stroke-width="0"/>
<circle cx="424.50" cy="64.50" r="0.90" fill="#111" stroke="none" stroke-width="0"/>
<circle cx="424.50" cy="67.00" r="0.90" fill="#111" stroke="none" stroke-width="0"/>
<circle cx="424.50" cy="69.50" r="0.90" fill="#111" stroke="none" stroke-width="0"/>
<circle cx="424.50" cy="72.00" r="0.90" fill="#111" stroke="none" stroke-width="0"/>
<circle cx="424.50" cy="74.50" r="0.90" fill="#111" stroke="none" stroke-width="0"/>
<circle cx="424.50" cy="77.00" r="0.90" fill="#111" stroke="none" stroke-width="0"/>
<circle cx="424.50" cy="79.50" r="0.90" fill="#111" stroke="none" stroke-width="0"/>
<circle cx="424.50" cy="82.00" r="0.90" fill="#111" stroke="none" stroke-width="0"/>
<circle cx="424.50" cy="84.50" r="0.90" fill="#111" stroke="none" stroke-width="0"/>
<circle cx="424.50" cy="87.00" r="0.90" fill="#111" stroke="none" stroke-width="0"/>
<circle cx="424.50" cy="89.50" r="0.90" fill="#111" stroke="none" stroke-width="0"/>
<circle cx="424.50" cy="92.00" r="0.90" fill="#111" stroke="none" stroke-width="0"/>
<circle cx="424.50" cy="94.50" r="0.90" fill="#111" stroke="none" stroke-width="0"/>
<circle cx="424.50" cy="97.00" r="0.90" fill="#111" stroke="none" stroke-width="0"/>
<line x1="434.50" y1="82.50" x2="434.50" y2="124.70" stroke="#231f20" stroke-width="1.0"/>
<line x1="434.50" y1="132.60" x2="434.50" y2="134.80" stroke="#231f20" stroke-width="1.0"/>
<rect x="430.10" y="124.70" width="9.20" height="7.90" fill="#2a4f8c" stroke="none" stroke-width="0"/>
<line x1="430.10" y1="129.30" x2="439.30" y2="129.30" stroke="#111" stroke-width="1.3"/>
<circle cx="434.50" cy="56.70" r="0.90" fill="#111" stroke="none" stroke-width="0"/>
<circle cx="434.50" cy="59.50" r="0.90" fill="#111" stroke="none" stroke-width="0"/>
<circle cx="434.50" cy="62.50" r="0.90" fill="#111" stroke="none" stroke-width="0"/>
<circle cx="434.50" cy="65.50" r="0.90" fill="#111" stroke="none" stroke-width="0"/>
<circle cx="434.50" cy="68.50" r="0.90" fill="#111" stroke="none" stroke-width="0"/>
<circle cx="434.50" cy="71.50" r="0.90" fill="#111" stroke="none" stroke-width="0"/>
<circle cx="434.50" cy="74.50" r="0.90" fill="#111" stroke="none" stroke-width="0"/>
<circle cx="434.50" cy="77.50" r="0.90" fill="#111" stroke="none" stroke-width="0"/>
<circle cx="434.50" cy="80.00" r="0.90" fill="#111" stroke="none" stroke-width="0"/>
<line x1="448.50" y1="95.40" x2="448.50" y2="103.90" stroke="#231f20" stroke-width="1.0"/>
<line x1="448.50" y1="123.90" x2="448.50" y2="133.20" stroke="#231f20" stroke-width="1.0"/>
<rect x="443.80" y="103.90" width="9.20" height="20.00" fill="#c0143c" stroke="none" stroke-width="0"/>
<line x1="443.80" y1="114.10" x2="453.00" y2="114.10" stroke="#111" stroke-width="1.3"/>
<line x1="458.50" y1="80.70" x2="458.50" y2="107.60" stroke="#231f20" stroke-width="1.0"/>
<line x1="458.50" y1="124.60" x2="458.50" y2="134.40" stroke="#231f20" stroke-width="1.0"/>
<rect x="454.00" y="107.60" width="9.20" height="17.00" fill="#6db33f" stroke="none" stroke-width="0"/>
<line x1="454.00" y1="121.00" x2="463.20" y2="121.00" stroke="#111" stroke-width="1.3"/>
<line x1="468.50" y1="91.70" x2="468.50" y2="117.80" stroke="#231f20" stroke-width="1.0"/>
<line x1="468.50" y1="132.70" x2="468.50" y2="135.60" stroke="#231f20" stroke-width="1.0"/>
<rect x="464.30" y="117.80" width="9.20" height="14.90" fill="#2a4f8c" stroke="none" stroke-width="0"/>
<line x1="464.30" y1="129.00" x2="473.50" y2="129.00" stroke="#111" stroke-width="1.3"/>
<circle cx="468.50" cy="56.60" r="0.90" fill="#111" stroke="none" stroke-width="0"/>
<circle cx="468.50" cy="77.00" r="0.90" fill="#111" stroke="none" stroke-width="0"/>
<circle cx="468.50" cy="84.40" r="0.90" fill="#111" stroke="none" stroke-width="0"/>
<circle cx="468.50" cy="86.30" r="0.90" fill="#111" stroke="none" stroke-width="0"/>
<circle cx="468.50" cy="88.80" r="0.90" fill="#111" stroke="none" stroke-width="0"/>
<line x1="482.50" y1="75.80" x2="482.50" y2="100.00" stroke="#231f20" stroke-width="1.0"/>
<line x1="482.50" y1="124.20" x2="482.50" y2="132.40" stroke="#231f20" stroke-width="1.0"/>
<rect x="477.50" y="100.00" width="9.20" height="24.20" fill="#c0143c" stroke="none" stroke-width="0"/>
<line x1="477.50" y1="115.80" x2="486.70" y2="115.80" stroke="#111" stroke-width="1.3"/>
<circle cx="482.50" cy="58.60" r="0.90" fill="#111" stroke="none" stroke-width="0"/>
<line x1="492.50" y1="65.80" x2="492.50" y2="104.50" stroke="#231f20" stroke-width="1.0"/>
<line x1="492.50" y1="128.50" x2="492.50" y2="133.90" stroke="#231f20" stroke-width="1.0"/>
<rect x="488.10" y="104.50" width="9.20" height="24.00" fill="#6db33f" stroke="none" stroke-width="0"/>
<line x1="488.10" y1="120.90" x2="497.30" y2="120.90" stroke="#111" stroke-width="1.3"/>
<circle cx="492.50" cy="46.90" r="0.90" fill="#111" stroke="none" stroke-width="0"/>
<circle cx="492.50" cy="49.50" r="0.90" fill="#111" stroke="none" stroke-width="0"/>
<circle cx="492.50" cy="51.60" r="0.90" fill="#111" stroke="none" stroke-width="0"/>
<line x1="502.50" y1="76.40" x2="502.50" y2="118.80" stroke="#231f20" stroke-width="1.0"/>
<line x1="502.50" y1="130.30" x2="502.50" y2="134.50" stroke="#231f20" stroke-width="1.0"/>
<rect x="498.30" y="118.80" width="9.20" height="11.50" fill="#2a4f8c" stroke="none" stroke-width="0"/>
<line x1="498.30" y1="126.40" x2="507.50" y2="126.40" stroke="#111" stroke-width="1.3"/>
<circle cx="502.50" cy="45.60" r="0.90" fill="#111" stroke="none" stroke-width="0"/>
<circle cx="502.50" cy="49.00" r="0.90" fill="#111" stroke="none" stroke-width="0"/>
<circle cx="502.50" cy="51.60" r="0.90" fill="#111" stroke="none" stroke-width="0"/>
<circle cx="502.50" cy="53.00" r="0.90" fill="#111" stroke="none" stroke-width="0"/>
<circle cx="502.50" cy="54.30" r="0.90" fill="#111" stroke="none" stroke-width="0"/>
<circle cx="502.50" cy="55.70" r="0.90" fill="#111" stroke="none" stroke-width="0"/>
<circle cx="502.50" cy="57.50" r="0.90" fill="#111" stroke="none" stroke-width="0"/>
<circle cx="502.50" cy="59.00" r="0.90" fill="#111" stroke="none" stroke-width="0"/>
<circle cx="502.50" cy="61.00" r="0.90" fill="#111" stroke="none" stroke-width="0"/>
<circle cx="502.50" cy="63.00" r="0.90" fill="#111" stroke="none" stroke-width="0"/>
<circle cx="502.50" cy="65.00" r="0.90" fill="#111" stroke="none" stroke-width="0"/>
<circle cx="502.50" cy="67.00" r="0.90" fill="#111" stroke="none" stroke-width="0"/>
<circle cx="502.50" cy="69.00" r="0.90" fill="#111" stroke="none" stroke-width="0"/>
<circle cx="502.50" cy="71.00" r="0.90" fill="#111" stroke="none" stroke-width="0"/>
<circle cx="502.50" cy="73.00" r="0.90" fill="#111" stroke="none" stroke-width="0"/>
<circle cx="502.50" cy="75.00" r="0.90" fill="#111" stroke="none" stroke-width="0"/>
<line x1="390.80" y1="139.60" x2="390.80" y2="142.40" stroke="#231f20" stroke-width="1.0"/>
<text x="390.80" y="153.00" font-size="8.4" fill="#231f20" text-anchor="middle" font-weight="normal" font-style="italic" stroke="#231f20" stroke-width="0.14">DNMT3A</text>
<line x1="424.60" y1="139.60" x2="424.60" y2="142.40" stroke="#231f20" stroke-width="1.0"/>
<text x="424.60" y="153.00" font-size="8.4" fill="#231f20" text-anchor="middle" font-weight="normal" font-style="italic" stroke="#231f20" stroke-width="0.14">TET2</text>
<line x1="458.50" y1="139.60" x2="458.50" y2="142.40" stroke="#231f20" stroke-width="1.0"/>
<text x="458.50" y="153.00" font-size="8.4" fill="#231f20" text-anchor="middle" font-weight="normal" font-style="italic" stroke="#231f20" stroke-width="0.14">ASXL1</text>
<line x1="491.90" y1="139.60" x2="491.90" y2="142.40" stroke="#231f20" stroke-width="1.0"/>
<text x="491.90" y="153.00" font-size="8.4" fill="#231f20" text-anchor="middle" font-weight="normal" font-style="italic" stroke="#231f20" stroke-width="0.14">SF3B1</text>
<line x1="380.00" y1="33.50" x2="400.60" y2="33.50" stroke="#231f20" stroke-width="1.0"/>
<text x="390.30" y="33.90" font-size="6.5" fill="#231f20" text-anchor="middle" font-weight="bold" font-style="normal">**</text>
<line x1="391.00" y1="40.50" x2="400.60" y2="40.50" stroke="#231f20" stroke-width="1.0"/>
<text x="395.80" y="40.90" font-size="6.5" fill="#231f20" text-anchor="middle" font-weight="bold" font-style="normal">**</text>
<line x1="414.10" y1="33.50" x2="434.50" y2="33.50" stroke="#231f20" stroke-width="1.0"/>
<text x="424.30" y="33.90" font-size="6.5" fill="#231f20" text-anchor="middle" font-weight="bold" font-style="normal">**</text>
<line x1="414.10" y1="38.50" x2="424.40" y2="38.50" stroke="#231f20" stroke-width="1.0"/>
<text x="419.25" y="38.90" font-size="6.5" fill="#231f20" text-anchor="middle" font-weight="bold" font-style="normal">**</text>
<line x1="424.40" y1="40.50" x2="434.50" y2="40.50" stroke="#231f20" stroke-width="1.0"/>
<text x="429.45" y="40.90" font-size="6.5" fill="#231f20" text-anchor="middle" font-weight="bold" font-style="normal">*</text>
<line x1="448.00" y1="33.50" x2="469.00" y2="33.50" stroke="#231f20" stroke-width="1.0"/>
<text x="458.50" y="33.90" font-size="6.5" fill="#231f20" text-anchor="middle" font-weight="bold" font-style="normal">*</text>
<line x1="458.50" y1="40.50" x2="469.00" y2="40.50" stroke="#231f20" stroke-width="1.0"/>
<text x="463.75" y="40.90" font-size="6.5" fill="#231f20" text-anchor="middle" font-weight="bold" font-style="normal">**</text>
<line x1="482.40" y1="33.50" x2="502.90" y2="33.50" stroke="#231f20" stroke-width="1.0"/>
<text x="492.65" y="33.90" font-size="6.5" fill="#231f20" text-anchor="middle" font-weight="bold" font-style="normal">**</text>
<line x1="482.40" y1="38.50" x2="492.80" y2="38.50" stroke="#231f20" stroke-width="1.0"/>
<text x="487.60" y="38.90" font-size="6.5" fill="#231f20" text-anchor="middle" font-weight="bold" font-style="normal">*</text>
<line x1="492.80" y1="40.50" x2="502.90" y2="40.50" stroke="#231f20" stroke-width="1.0"/>
<text x="497.85" y="40.90" font-size="6.5" fill="#231f20" text-anchor="middle" font-weight="bold" font-style="normal">***</text>
<line x1="367.00" y1="160.20" x2="367.00" y2="166.60" stroke="#231f20" stroke-width="0.8"/>
<rect x="364.60" y="161.20" width="4.80" height="4.40" fill="#8e1535" stroke="none" stroke-width="0"/>
<line x1="364.60" y1="163.40" x2="369.40" y2="163.40" stroke="#111" stroke-width="0.8"/>
<text x="373.00" y="165.80" font-size="7.6" fill="#231f20" text-anchor="start" font-weight="normal" font-style="normal" textLength="39.30" lengthAdjust="spacingAndGlyphs" stroke="#231f20" stroke-width="0.14">20–39 years</text>
<line x1="418.30" y1="160.20" x2="418.30" y2="166.60" stroke="#231f20" stroke-width="0.8"/>
<rect x="415.90" y="161.20" width="4.80" height="4.40" fill="#4f8f2c" stroke="none" stroke-width="0"/>
<line x1="415.90" y1="163.40" x2="420.70" y2="163.40" stroke="#111" stroke-width="0.8"/>
<text x="424.20" y="165.80" font-size="7.6" fill="#231f20" text-anchor="start" font-weight="normal" font-style="normal" textLength="40.00" lengthAdjust="spacingAndGlyphs" stroke="#231f20" stroke-width="0.14">40–59 years</text>
<line x1="469.40" y1="160.20" x2="469.40" y2="166.60" stroke="#231f20" stroke-width="0.8"/>
<rect x="467.00" y="161.20" width="4.80" height="4.40" fill="#223f70" stroke="none" stroke-width="0"/>
<line x1="467.00" y1="163.40" x2="471.80" y2="163.40" stroke="#111" stroke-width="0.8"/>
<text x="476.40" y="165.80" font-size="7.6" fill="#231f20" text-anchor="start" font-weight="normal" font-style="normal" textLength="32.20" lengthAdjust="spacingAndGlyphs" stroke="#231f20" stroke-width="0.14">60+ years</text>
<text x="154.30" y="188.80" font-size="11.2" fill="#000" text-anchor="start" font-weight="bold" font-style="normal" textLength="7.90" lengthAdjust="spacingAndGlyphs">C</text>
<text x="196.90" y="197.30" font-size="10.6" fill="#231f20" text-anchor="start" font-weight="normal" font-style="normal" textLength="113.30" lengthAdjust="spacingAndGlyphs" stroke="#231f20" stroke-width="0.18">Solid tumors (n = 113,079)</text>
<text transform="translate(164.6,275.1) rotate(-90)" font-size="8.2" fill="#231f20" stroke="#231f20" stroke-width="0.14" textLength="68.9" lengthAdjust="spacingAndGlyphs">Rate of detection (%)</text>
<line x1="181.40" y1="202.20" x2="181.40" y2="278.30" stroke="#231f20" stroke-width="1.2"/>
<line x1="180.80" y1="277.70" x2="325.60" y2="277.70" stroke="#231f20" stroke-width="1.2"/>
<line x1="178.80" y1="262.80" x2="181.40" y2="262.80" stroke="#231f20" stroke-width="1.0"/>
<text x="175.40" y="265.30" font-size="8.0" fill="#231f20" text-anchor="end" font-weight="normal" font-style="normal" stroke="#231f20" stroke-width="0.14">1</text>
<line x1="178.80" y1="251.40" x2="181.40" y2="251.40" stroke="#231f20" stroke-width="1.0"/>
<text x="175.40" y="253.90" font-size="8.0" fill="#231f20" text-anchor="end" font-weight="normal" font-style="normal" stroke="#231f20" stroke-width="0.14">2</text>
<line x1="178.80" y1="240.00" x2="181.40" y2="240.00" stroke="#231f20" stroke-width="1.0"/>
<text x="175.40" y="242.50" font-size="8.0" fill="#231f20" text-anchor="end" font-weight="normal" font-style="normal" stroke="#231f20" stroke-width="0.14">3</text>
<line x1="178.80" y1="228.60" x2="181.40" y2="228.60" stroke="#231f20" stroke-width="1.0"/>
<text x="175.40" y="231.10" font-size="8.0" fill="#231f20" text-anchor="end" font-weight="normal" font-style="normal" stroke="#231f20" stroke-width="0.14">4</text>
<line x1="178.80" y1="217.20" x2="181.40" y2="217.20" stroke="#231f20" stroke-width="1.0"/>
<text x="175.40" y="219.70" font-size="8.0" fill="#231f20" text-anchor="end" font-weight="normal" font-style="normal" stroke="#231f20" stroke-width="0.14">5</text>
<line x1="178.80" y1="205.80" x2="181.40" y2="205.80" stroke="#231f20" stroke-width="1.0"/>
<text x="175.40" y="208.30" font-size="8.0" fill="#231f20" text-anchor="end" font-weight="normal" font-style="normal" stroke="#231f20" stroke-width="0.14">6</text>
<line x1="188.30" y1="277.70" x2="188.30" y2="280.70" stroke="#231f20" stroke-width="1.0"/>
<text x="188.30" y="291.00" font-size="8.3" fill="#231f20" text-anchor="middle" font-weight="normal" font-style="normal" transform="translate(188.30,0) scale(0.93,1) translate(-188.30,0)">20</text>
<line x1="207.50" y1="277.70" x2="207.50" y2="280.70" stroke="#231f20" stroke-width="1.0"/>
<text x="207.50" y="291.00" font-size="8.3" fill="#231f20" text-anchor="middle" font-weight="normal" font-style="normal" transform="translate(207.50,0) scale(0.93,1) translate(-207.50,0)">30</text>
<line x1="226.70" y1="277.70" x2="226.70" y2="280.70" stroke="#231f20" stroke-width="1.0"/>
<text x="226.70" y="291.00" font-size="8.3" fill="#231f20" text-anchor="middle" font-weight="normal" font-style="normal" transform="translate(226.70,0) scale(0.93,1) translate(-226.70,0)">40</text>
<line x1="245.90" y1="277.70" x2="245.90" y2="280.70" stroke="#231f20" stroke-width="1.0"/>
<text x="245.90" y="291.00" font-size="8.3" fill="#231f20" text-anchor="middle" font-weight="normal" font-style="normal" transform="translate(245.90,0) scale(0.93,1) translate(-245.90,0)">50</text>
<line x1="265.10" y1="277.70" x2="265.10" y2="280.70" stroke="#231f20" stroke-width="1.0"/>
<text x="265.10" y="291.00" font-size="8.3" fill="#231f20" text-anchor="middle" font-weight="normal" font-style="normal" transform="translate(265.10,0) scale(0.93,1) translate(-265.10,0)">60</text>
<line x1="284.30" y1="277.70" x2="284.30" y2="280.70" stroke="#231f20" stroke-width="1.0"/>
<text x="284.30" y="291.00" font-size="8.3" fill="#231f20" text-anchor="middle" font-weight="normal" font-style="normal" transform="translate(284.30,0) scale(0.93,1) translate(-284.30,0)">70</text>
<line x1="303.50" y1="277.70" x2="303.50" y2="280.70" stroke="#231f20" stroke-width="1.0"/>
<text x="303.50" y="291.00" font-size="8.3" fill="#231f20" text-anchor="middle" font-weight="normal" font-style="normal" transform="translate(303.50,0) scale(0.93,1) translate(-303.50,0)">80</text>
<line x1="322.70" y1="277.70" x2="322.70" y2="280.70" stroke="#231f20" stroke-width="1.0"/>
<text x="322.70" y="291.00" font-size="8.3" fill="#231f20" text-anchor="middle" font-weight="normal" font-style="normal" transform="translate(322.70,0) scale(0.93,1) translate(-322.70,0)">90</text>
<text x="234.80" y="303.30" font-size="9.6" fill="#231f20" text-anchor="start" font-weight="normal" font-style="normal" textLength="37.00" lengthAdjust="spacingAndGlyphs" stroke="#231f20" stroke-width="0.18">Patient age</text>
<path d="M188.10,272.40 L190.31,272.34 L192.52,272.28 L194.73,272.21 L196.94,272.14 L199.15,272.07 L201.36,271.99 L203.57,271.90 L205.78,271.81 L207.98,271.71 L210.19,271.60 L212.40,271.49 L214.61,271.37 L216.82,271.25 L219.03,271.11 L221.24,270.97 L223.45,270.82 L225.66,270.65 L227.87,270.48 L230.08,270.30 L232.29,270.10 L234.50,269.90 L236.71,269.68 L238.92,269.44 L241.13,269.20 L243.34,268.93 L245.54,268.66 L247.75,268.36 L249.96,268.05 L252.17,267.72 L254.38,267.37 L256.59,266.99 L258.80,266.60 L261.01,266.19 L263.22,265.75 L265.43,265.28 L267.64,264.79 L269.85,264.28 L272.06,263.73 L274.27,263.16 L276.48,262.56 L278.69,261.92 L280.90,261.25 L283.10,260.55 L285.31,259.81 L287.52,259.04 L289.73,258.23 L291.94,257.39 L294.15,256.50 L296.36,255.58 L298.57,254.61 L300.78,253.61 L302.99,252.57 L305.20,251.48 L307.41,250.36 L309.62,249.19 L311.83,247.98 L314.04,246.74 L316.25,245.45 L318.46,244.13" fill="none" stroke="#e6c445" stroke-width="1.75" stroke-linecap="round"/>
<path d="M188.10,268.90 L190.31,268.74 L192.52,268.58 L194.73,268.41 L196.94,268.23 L199.15,268.05 L201.36,267.85 L203.57,267.65 L205.78,267.43 L207.98,267.21 L210.19,266.98 L212.40,266.74 L214.61,266.48 L216.82,266.22 L219.03,265.94 L221.24,265.65 L223.45,265.35 L225.66,265.04 L227.87,264.71 L230.08,264.37 L232.29,264.01 L234.50,263.65 L236.71,263.26 L238.92,262.86 L241.13,262.45 L243.34,262.02 L245.54,261.57 L247.75,261.10 L249.96,260.62 L252.17,260.12 L254.38,259.60 L256.59,259.06 L258.80,258.51 L261.01,257.93 L263.22,257.33 L265.43,256.72 L267.64,256.08 L269.85,255.42 L272.06,254.74 L274.27,254.04 L276.48,253.32 L278.69,252.58 L280.90,251.82 L283.10,251.03 L285.31,250.22 L287.52,249.40 L289.73,248.55 L291.94,247.68 L294.15,246.79 L296.36,245.88 L298.57,244.95 L300.78,244.01 L302.99,243.04 L305.20,242.06 L307.41,241.06 L309.62,240.05 L311.83,239.02 L314.04,237.98 L316.25,236.93 L318.46,235.87" fill="none" stroke="#3b2160" stroke-width="1.75" stroke-linecap="round"/>
<path d="M188.10,269.80 L190.31,269.65 L192.52,269.49 L194.73,269.32 L196.94,269.14 L199.15,268.96 L201.36,268.76 L203.57,268.56 L205.78,268.35 L207.98,268.12 L210.19,267.89 L212.40,267.64 L214.61,267.38 L216.82,267.11 L219.03,266.82 L221.24,266.52 L223.45,266.20 L225.66,265.87 L227.87,265.52 L230.08,265.16 L232.29,264.77 L234.50,264.37 L236.71,263.95 L238.92,263.51 L241.13,263.04 L243.34,262.55 L245.54,262.04 L247.75,261.50 L249.96,260.94 L252.17,260.35 L254.38,259.73 L256.59,259.08 L258.80,258.40 L261.01,257.69 L263.22,256.94 L265.43,256.16 L267.64,255.34 L269.85,254.48 L272.06,253.58 L274.27,252.63 L276.48,251.65 L278.69,250.62 L280.90,249.54 L283.10,248.41 L285.31,247.23 L287.52,246.00 L289.73,244.71 L291.94,243.36 L294.15,241.96 L296.36,240.49 L298.57,238.96 L300.78,237.36 L302.99,235.70 L305.20,233.96 L307.41,232.15 L309.62,230.27 L311.83,228.31 L314.04,226.27 L316.25,224.15 L318.46,221.95" fill="none" stroke="#a21a44" stroke-width="1.75" stroke-linecap="round"/>
<path d="M188.10,270.80 L190.31,270.64 L192.52,270.47 L194.73,270.29 L196.94,270.11 L199.15,269.91 L201.36,269.71 L203.57,269.49 L205.78,269.27 L207.98,269.03 L210.19,268.78 L212.40,268.52 L214.61,268.24 L216.82,267.95 L219.03,267.65 L221.24,267.33 L223.45,266.99 L225.66,266.64 L227.87,266.26 L230.08,265.87 L232.29,265.46 L234.50,265.02 L236.71,264.57 L238.92,264.08 L241.13,263.58 L243.34,263.04 L245.54,262.48 L247.75,261.89 L249.96,261.26 L252.17,260.60 L254.38,259.91 L256.59,259.17 L258.80,258.40 L261.01,257.58 L263.22,256.72 L265.43,255.81 L267.64,254.85 L269.85,253.84 L272.06,252.77 L274.27,251.64 L276.48,250.45 L278.69,249.19 L280.90,247.85 L283.10,246.44 L285.31,244.95 L287.52,243.38 L289.73,241.71 L291.94,239.94 L294.15,238.08 L296.36,236.10 L298.57,234.01 L300.78,231.79 L302.99,229.44 L305.20,226.95 L307.41,224.31 L309.62,221.52 L311.83,218.56 L314.04,215.41 L316.25,212.08 L318.46,208.54" fill="none" stroke="#2b3f70" stroke-width="1.75" stroke-linecap="round"/>
<line x1="192.00" y1="319.70" x2="197.20" y2="319.70" stroke="#7a1a34" stroke-width="2.0"/>
<text x="200.90" y="321.60" font-size="7.9" fill="#231f20" text-anchor="start" font-weight="normal" font-style="italic" textLength="30.70" lengthAdjust="spacingAndGlyphs" stroke="#231f20" stroke-width="0.18">DNMT3A</text>
<line x1="234.70" y1="319.70" x2="239.90" y2="319.70" stroke="#1c2440" stroke-width="2.0"/>
<text x="243.00" y="321.60" font-size="7.9" fill="#231f20" text-anchor="start" font-weight="normal" font-style="italic" textLength="17.00" lengthAdjust="spacingAndGlyphs" stroke="#231f20" stroke-width="0.18">TET2</text>
<line x1="262.20" y1="319.70" x2="267.30" y2="319.70" stroke="#ece8a8" stroke-width="2.0"/>
<text x="271.60" y="321.60" font-size="7.9" fill="#231f20" text-anchor="start" font-weight="normal" font-style="italic" textLength="18.80" lengthAdjust="spacingAndGlyphs" stroke="#231f20" stroke-width="0.18">SF3B1</text>
<line x1="293.20" y1="319.70" x2="299.00" y2="319.70" stroke="#221a30" stroke-width="2.0"/>
<text x="302.60" y="321.60" font-size="7.9" fill="#231f20" text-anchor="start" font-weight="normal" font-style="italic" textLength="21.70" lengthAdjust="spacingAndGlyphs" stroke="#231f20" stroke-width="0.18">ASXL1</text>
<text x="340.40" y="188.60" font-size="11.2" fill="#000" text-anchor="start" font-weight="bold" font-style="normal" textLength="7.00" lengthAdjust="spacingAndGlyphs">E</text>
<text x="382.00" y="196.90" font-size="10.6" fill="#231f20" text-anchor="start" font-weight="normal" font-style="normal" textLength="113.50" lengthAdjust="spacingAndGlyphs" stroke="#231f20" stroke-width="0.18">Solid tumors (n = 113,079)</text>
<text transform="translate(350.0,274.6) rotate(-90)" font-size="8.2" fill="#231f20" stroke="#231f20" stroke-width="0.14" textLength="68.9" lengthAdjust="spacingAndGlyphs">Rate of detection (%)</text>
<line x1="366.50" y1="202.30" x2="366.50" y2="278.00" stroke="#231f20" stroke-width="1.2"/>
<line x1="365.90" y1="277.40" x2="510.00" y2="277.40" stroke="#231f20" stroke-width="1.2"/>
<line x1="363.60" y1="262.80" x2="366.50" y2="262.80" stroke="#231f20" stroke-width="1.0"/>
<text x="361.00" y="265.30" font-size="8.0" fill="#231f20" text-anchor="end" font-weight="normal" font-style="normal" stroke="#231f20" stroke-width="0.14">1</text>
<line x1="363.60" y1="233.50" x2="366.50" y2="233.50" stroke="#231f20" stroke-width="1.0"/>
<text x="361.00" y="236.00" font-size="8.0" fill="#231f20" text-anchor="end" font-weight="normal" font-style="normal" stroke="#231f20" stroke-width="0.14">2</text>
<line x1="363.60" y1="204.20" x2="366.50" y2="204.20" stroke="#231f20" stroke-width="1.0"/>
<text x="361.00" y="206.70" font-size="8.0" fill="#231f20" text-anchor="end" font-weight="normal" font-style="normal" stroke="#231f20" stroke-width="0.14">3</text>
<line x1="372.90" y1="277.40" x2="372.90" y2="280.40" stroke="#231f20" stroke-width="1.0"/>
<text x="372.90" y="290.60" font-size="8.3" fill="#231f20" text-anchor="middle" font-weight="normal" font-style="normal" transform="translate(372.90,0) scale(0.93,1) translate(-372.90,0)">0</text>
<line x1="385.95" y1="277.40" x2="385.95" y2="280.40" stroke="#231f20" stroke-width="1.0"/>
<text x="385.95" y="290.60" font-size="8.3" fill="#231f20" text-anchor="middle" font-weight="normal" font-style="normal" transform="translate(385.95,0) scale(0.93,1) translate(-385.95,0)">10</text>
<line x1="399.00" y1="277.40" x2="399.00" y2="280.40" stroke="#231f20" stroke-width="1.0"/>
<text x="399.00" y="290.60" font-size="8.3" fill="#231f20" text-anchor="middle" font-weight="normal" font-style="normal" transform="translate(399.00,0) scale(0.93,1) translate(-399.00,0)">20</text>
<line x1="412.05" y1="277.40" x2="412.05" y2="280.40" stroke="#231f20" stroke-width="1.0"/>
<text x="412.05" y="290.60" font-size="8.3" fill="#231f20" text-anchor="middle" font-weight="normal" font-style="normal" transform="translate(412.05,0) scale(0.93,1) translate(-412.05,0)">30</text>
<line x1="425.10" y1="277.40" x2="425.10" y2="280.40" stroke="#231f20" stroke-width="1.0"/>
<text x="425.10" y="290.60" font-size="8.3" fill="#231f20" text-anchor="middle" font-weight="normal" font-style="normal" transform="translate(425.10,0) scale(0.93,1) translate(-425.10,0)">40</text>
<line x1="438.15" y1="277.40" x2="438.15" y2="280.40" stroke="#231f20" stroke-width="1.0"/>
<text x="438.15" y="290.60" font-size="8.3" fill="#231f20" text-anchor="middle" font-weight="normal" font-style="normal" transform="translate(438.15,0) scale(0.93,1) translate(-438.15,0)">50</text>
<line x1="451.20" y1="277.40" x2="451.20" y2="280.40" stroke="#231f20" stroke-width="1.0"/>
<text x="451.20" y="290.60" font-size="8.3" fill="#231f20" text-anchor="middle" font-weight="normal" font-style="normal" transform="translate(451.20,0) scale(0.93,1) translate(-451.20,0)">60</text>
<line x1="464.25" y1="277.40" x2="464.25" y2="280.40" stroke="#231f20" stroke-width="1.0"/>
<text x="464.25" y="290.60" font-size="8.3" fill="#231f20" text-anchor="middle" font-weight="normal" font-style="normal" transform="translate(464.25,0) scale(0.93,1) translate(-464.25,0)">70</text>
<line x1="477.30" y1="277.40" x2="477.30" y2="280.40" stroke="#231f20" stroke-width="1.0"/>
<text x="477.30" y="290.60" font-size="8.3" fill="#231f20" text-anchor="middle" font-weight="normal" font-style="normal" transform="translate(477.30,0) scale(0.93,1) translate(-477.30,0)">80</text>
<line x1="490.35" y1="277.40" x2="490.35" y2="280.40" stroke="#231f20" stroke-width="1.0"/>
<text x="490.35" y="290.60" font-size="8.3" fill="#231f20" text-anchor="middle" font-weight="normal" font-style="normal" transform="translate(490.35,0) scale(0.93,1) translate(-490.35,0)">90</text>
<line x1="503.40" y1="277.40" x2="503.40" y2="280.40" stroke="#231f20" stroke-width="1.0"/>
<text x="503.40" y="290.60" font-size="8.3" fill="#231f20" text-anchor="middle" font-weight="normal" font-style="normal" transform="translate(503.40,0) scale(0.93,1) translate(-503.40,0)">100</text>
<text x="422.80" y="303.60" font-size="9.6" fill="#231f20" text-anchor="start" font-weight="normal" font-style="normal" textLength="42.40" lengthAdjust="spacingAndGlyphs" stroke="#231f20" stroke-width="0.18">Tumor purity</text>
<path d="M372.90,255.68 L375.11,256.10 L377.32,256.52 L379.54,256.93 L381.75,257.33 L383.96,257.74 L386.17,258.14 L388.38,258.53 L390.59,258.92 L392.81,259.31 L395.02,259.69 L397.23,260.07 L399.44,260.45 L401.65,260.82 L403.87,261.19 L406.08,261.55 L408.29,261.91 L410.50,262.27 L412.71,262.62 L414.93,262.97 L417.14,263.32 L419.35,263.66 L421.56,264.00 L423.77,264.33 L425.98,264.67 L428.20,264.99 L430.41,265.32 L432.62,265.64 L434.83,265.96 L437.04,266.27 L439.26,266.58 L441.47,266.89 L443.68,267.20 L445.89,267.50 L448.10,267.79 L450.32,268.09 L452.53,268.38 L454.74,268.67 L456.95,268.96 L459.16,269.24 L461.37,269.52 L463.59,269.79 L465.80,270.07 L468.01,270.34 L470.22,270.60 L472.43,270.87 L474.65,271.13 L476.86,271.39 L479.07,271.65 L481.28,271.90 L483.49,272.15 L485.71,272.40 L487.92,272.64 L490.13,272.88 L492.34,273.12 L494.55,273.36 L496.76,273.59 L498.98,273.83 L501.19,274.06 L503.40,274.28" fill="none" stroke="#e6c445" stroke-width="1.75" stroke-linecap="round"/>
<path d="M372.90,234.49 L375.11,234.89 L377.32,235.29 L379.54,235.69 L381.75,236.09 L383.96,236.49 L386.17,236.89 L388.38,237.29 L390.59,237.69 L392.81,238.09 L395.02,238.49 L397.23,238.89 L399.44,239.29 L401.65,239.69 L403.87,240.09 L406.08,240.49 L408.29,240.89 L410.50,241.29 L412.71,241.68 L414.93,242.08 L417.14,242.48 L419.35,242.88 L421.56,243.27 L423.77,243.67 L425.98,244.06 L428.20,244.46 L430.41,244.85 L432.62,245.24 L434.83,245.64 L437.04,246.03 L439.26,246.42 L441.47,246.81 L443.68,247.20 L445.89,247.59 L448.10,247.97 L450.32,248.36 L452.53,248.74 L454.74,249.13 L456.95,249.51 L459.16,249.89 L461.37,250.27 L463.59,250.65 L465.80,251.03 L468.01,251.41 L470.22,251.78 L472.43,252.16 L474.65,252.53 L476.86,252.90 L479.07,253.27 L481.28,253.64 L483.49,254.01 L485.71,254.37 L487.92,254.74 L490.13,255.10 L492.34,255.46 L494.55,255.82 L496.76,256.18 L498.98,256.53 L501.19,256.89 L503.40,257.24" fill="none" stroke="#3b2160" stroke-width="1.75" stroke-linecap="round"/>
<path d="M372.90,211.26 L375.11,212.61 L377.32,213.93 L379.54,215.22 L381.75,216.50 L383.96,217.75 L386.17,218.98 L388.38,220.19 L390.59,221.38 L392.81,222.54 L395.02,223.69 L397.23,224.81 L399.44,225.92 L401.65,227.01 L403.87,228.08 L406.08,229.13 L408.29,230.16 L410.50,231.17 L412.71,232.17 L414.93,233.15 L417.14,234.11 L419.35,235.06 L421.56,235.99 L423.77,236.90 L425.98,237.80 L428.20,238.68 L430.41,239.55 L432.62,240.40 L434.83,241.23 L437.04,242.06 L439.26,242.87 L441.47,243.66 L443.68,244.44 L445.89,245.21 L448.10,245.96 L450.32,246.71 L452.53,247.44 L454.74,248.15 L456.95,248.86 L459.16,249.55 L461.37,250.23 L463.59,250.90 L465.80,251.56 L468.01,252.20 L470.22,252.84 L472.43,253.47 L474.65,254.08 L476.86,254.68 L479.07,255.28 L481.28,255.86 L483.49,256.44 L485.71,257.00 L487.92,257.56 L490.13,258.10 L492.34,258.64 L494.55,259.16 L496.76,259.68 L498.98,260.19 L501.19,260.69 L503.40,261.19" fill="none" stroke="#2b3f70" stroke-width="1.75" stroke-linecap="round"/>
<path d="M372.90,205.53 L375.11,207.78 L377.32,209.93 L379.54,211.99 L381.75,213.95 L383.96,215.84 L386.17,217.64 L388.38,219.38 L390.59,221.04 L392.81,222.65 L395.02,224.19 L397.23,225.68 L399.44,227.11 L401.65,228.50 L403.87,229.84 L406.08,231.14 L408.29,232.40 L410.50,233.62 L412.71,234.80 L414.93,235.96 L417.14,237.08 L419.35,238.18 L421.56,239.25 L423.77,240.29 L425.98,241.32 L428.20,242.32 L430.41,243.30 L432.62,244.27 L434.83,245.21 L437.04,246.14 L439.26,247.06 L441.47,247.96 L443.68,248.86 L445.89,249.74 L448.10,250.61 L450.32,251.46 L452.53,252.32 L454.74,253.16 L456.95,253.99 L459.16,254.82 L461.37,255.64 L463.59,256.45 L465.80,257.26 L468.01,258.06 L470.22,258.86 L472.43,259.65 L474.65,260.44 L476.86,261.22 L479.07,262.00 L481.28,262.77 L483.49,263.54 L485.71,264.30 L487.92,265.06 L490.13,265.81 L492.34,266.56 L494.55,267.30 L496.76,268.04 L498.98,268.77 L501.19,269.49 L503.40,270.20" fill="none" stroke="#a21a44" stroke-width="1.75" stroke-linecap="round"/>
<line x1="373.60" y1="319.70" x2="377.90" y2="319.70" stroke="#7a1a34" stroke-width="2.0"/>
<text x="382.30" y="321.60" font-size="7.9" fill="#231f20" text-anchor="start" font-weight="normal" font-style="italic" textLength="30.80" lengthAdjust="spacingAndGlyphs" stroke="#231f20" stroke-width="0.18">DNMT3A</text>
<line x1="416.20" y1="319.70" x2="421.20" y2="319.70" stroke="#1c2440" stroke-width="2.0"/>
<text x="424.80" y="321.60" font-size="7.9" fill="#231f20" text-anchor="start" font-weight="normal" font-style="italic" textLength="16.60" lengthAdjust="spacingAndGlyphs" stroke="#231f20" stroke-width="0.18">TET2</text>
<line x1="444.30" y1="319.70" x2="450.10" y2="319.70" stroke="#ece8a8" stroke-width="2.0"/>
<text x="452.70" y="321.60" font-size="7.9" fill="#231f20" text-anchor="start" font-weight="normal" font-style="italic" textLength="21.20" lengthAdjust="spacingAndGlyphs" stroke="#231f20" stroke-width="0.18">SF3B1</text>
<line x1="477.20" y1="319.70" x2="482.60" y2="319.70" stroke="#221a30" stroke-width="2.0"/>
<text x="485.50" y="321.60" font-size="7.9" fill="#231f20" text-anchor="start" font-weight="normal" font-style="italic" textLength="20.90" lengthAdjust="spacingAndGlyphs" stroke="#231f20" stroke-width="0.18">ASXL1</text>
<rect x="0.75" y="0.6" width="518.5" height="327.7" fill="none" stroke="#000" stroke-width="1.5"/></svg></body></html>
